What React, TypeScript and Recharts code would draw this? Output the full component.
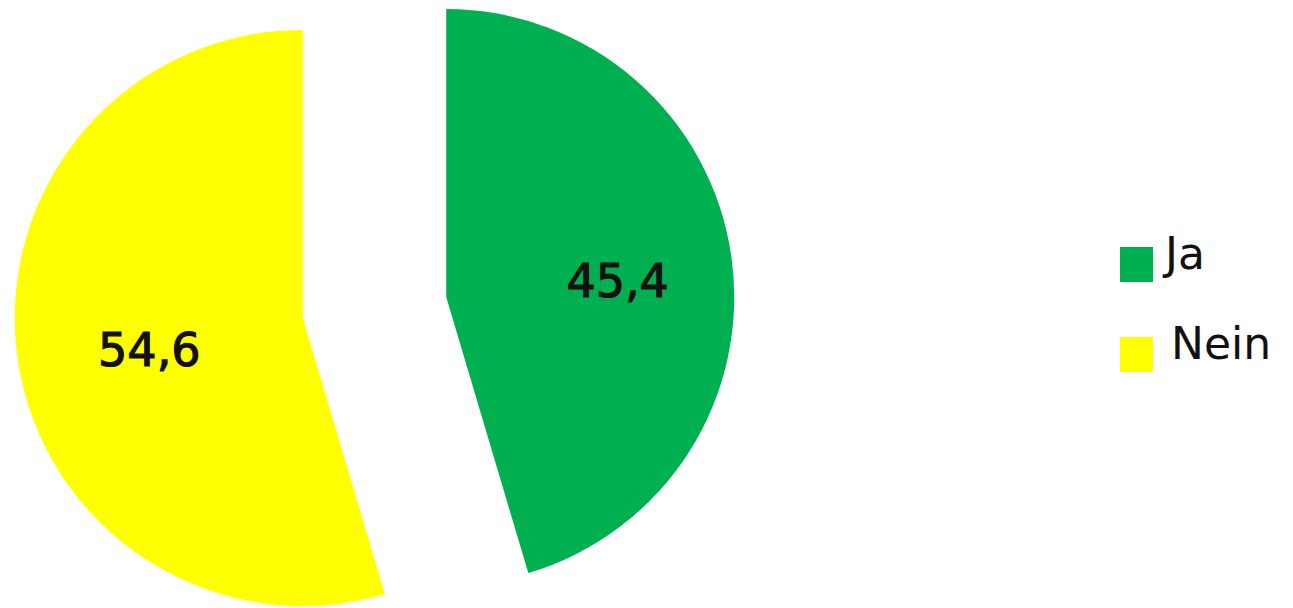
import React from 'react';
import { PieChart, Pie, Cell, Legend } from 'recharts';

const categories = ['Ja', 'Nein'];
const values = [45.4, 54.6];
const valueLabels = ['45,4', '54,6'];
const colors = ['#00B050', '#FFFF00'];

const W = 1293;
const H = 608;
const CX = 374.5;
const CY = 307.5;
const R = 288;
const EXPLODE = 72.5;
const RAD = Math.PI / 180;

const data = categories.map((name, i) => ({ name, value: values[i] }));
const total = values.reduce((a, b) => a + b, 0);
const midAngles = values.map((v, i) => {
  const before = values.slice(0, i).reduce((a, b) => a + b, 0);
  return 90 - (360 * (before + v / 2)) / total;
});

const makeLabel = (visible: number) => (props: any) => {
  const { cx, cy, midAngle, outerRadius, index } = props;
  if (index !== visible) return null;
  const r = outerRadius * 0.57;
  const x = cx + r * Math.cos(-midAngle * RAD) + 9;
  const y = cy + r * Math.sin(-midAngle * RAD) + 8;
  return (
    <text
      x={x}
      y={y}
      textAnchor="middle"
      dominantBaseline="central"
      fontFamily="'DejaVu Sans', sans-serif"
      fontSize={46}
      fill="#111"
      stroke="#111"
      strokeWidth={1.2}
    >
      {valueLabels[index]}
    </text>
  );
};

const LegendContent = () => (
  <div style={{ fontFamily: 'DejaVu Sans', fontSize: 44, color: '#111' }}>
    {categories.map((c, i) => (
      <div key={c} style={{ display: 'flex', alignItems: 'center', height: 90, position: 'relative' }}>
        <div style={{ width: 33, height: 35, background: colors[i], marginTop: 20 }} />
        <span style={{ marginLeft: i === 0 ? 12 : 18, lineHeight: '44px' }}>{c}</span>
      </div>
    ))}
  </div>
);

export default function App() {
  return (
    <div style={{ position: 'fixed', left: 0, top: 0, width: W, height: H, background: '#fff' }}>
      <PieChart width={W} height={H} margin={{ top: 0, right: 0, bottom: 0, left: 0 }}>
        {values.map((_, i) => (
          <Pie
            key={i}
            data={data}
            dataKey="value"
            nameKey="name"
            cx={CX + EXPLODE * Math.cos(midAngles[i] * RAD)}
            cy={CY - EXPLODE * Math.sin(midAngles[i] * RAD)}
            outerRadius={R}
            innerRadius={0}
            startAngle={90}
            endAngle={-270}
            stroke="none"
            labelLine={false}
            label={makeLabel(i)}
            isAnimationActive={false}
          >
            {data.map((d, j) => (
              <Cell key={d.name} fill={j === i ? colors[j] : 'transparent'} />
            ))}
          </Pie>
        ))}
        <Legend
          content={<LegendContent />}
          wrapperStyle={{ position: 'absolute', left: 1120, top: 209, width: 170 }}
        />
      </PieChart>
    </div>
  );
}
